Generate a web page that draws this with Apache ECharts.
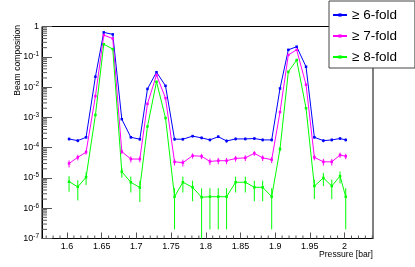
<!DOCTYPE html>
<html><head><meta charset="utf-8">
<script src="https://cdn.jsdelivr.net/npm/echarts@6/dist/echarts.min.js"></script>
<style>html,body{margin:0;padding:0;background:#fff}#c{width:415px;height:267px}</style>
</head><body><div id="c"></div>
<script>
// ---- data ----
const pressure = [1.603, 1.6156, 1.6275, 1.641, 1.653, 1.666, 1.679, 1.692, 1.705, 1.716, 1.729, 1.742,
  1.755, 1.767, 1.781, 1.794, 1.806, 1.818, 1.830, 1.843, 1.857, 1.870, 1.882, 1.895,
  1.907, 1.919, 1.931, 1.9445, 1.9565, 1.9695, 1.9816, 1.9935, 2.0017];

const fold6 = [1.93e-4, 1.7e-4, 2.2e-4, 0.022, 0.64, 0.55, 8.7e-4, 2.2e-4, 1.9e-4, 8.7e-3, 0.031, 0.011,
  1.9e-4, 1.9e-4, 2.4e-4, 2.1e-4, 1.8e-4, 2.3e-4, 1.66e-4, 1.94e-4, 1.94e-4, 2.0e-4, 1.8e-4, 1.8e-4,
  9e-3, 0.17, 0.215, 0.047, 2.2e-4, 1.7e-4, 1.8e-4, 2.0e-4, 1.8e-4];
const fold6Err = [2.0e-5, 1.9e-5, 2.1e-5, 2.1e-4, 1.2e-3, 1.1e-3, 4.3e-5, 2.1e-5, 2.0e-5, 1.4e-4, 2.6e-4, 1.5e-4,
  2.0e-5, 2.0e-5, 2.2e-5, 2.1e-5, 1.9e-5, 2.2e-5, 1.9e-5, 2.0e-5, 2.0e-5, 2.0e-5, 1.9e-5, 1.9e-5,
  1.4e-4, 6e-4, 6.7e-4, 3.1e-4, 2.1e-5, 1.9e-5, 1.9e-5, 2.0e-5, 1.9e-5];

const fold7 = [3.0e-5, 4.8e-5, 7.1e-5, 5e-3, 0.52, 0.40, 7.4e-5, 4.2e-5, 4.2e-5, 2.8e-3, 0.025, 4.3e-3,
  3.4e-5, 3.2e-5, 5.4e-5, 5.2e-5, 3.5e-5, 3.7e-5, 3.7e-5, 4.4e-5, 4.6e-5, 6.5e-5, 4.6e-5, 4.0e-5,
  1.5e-3, 0.115, 0.17, 0.012, 4.8e-5, 3.4e-5, 3.4e-5, 5.7e-5, 5.2e-5];
const fold7Err = [7.9e-6, 1.0e-5, 1.2e-5, 1.0e-4, 1.0e-3, 9e-4, 1.25e-5, 9.4e-6, 9.4e-6, 7.7e-5, 2.3e-4, 9.5e-5,
  8.4e-6, 8.2e-6, 1.06e-5, 1.04e-5, 8.6e-6, 8.8e-6, 8.8e-6, 9.6e-6, 9.8e-6, 1.17e-5, 9.8e-6, 9.2e-6,
  5.6e-5, 4.9e-4, 6e-4, 1.6e-4, 1.0e-5, 8.4e-6, 8.4e-6, 1.1e-5, 1.04e-5];

const fold8 = [7.5e-6, 5.1e-6, 1.05e-5, 1.2e-3, 0.26, 0.18, 1.6e-5, 7.2e-6, 4.8e-6, 5e-4, 0.015, 9.5e-4,
  2.4e-6, 7.2e-6, 4.9e-6, 2.3e-6, 2.4e-6, 2.4e-6, 2.4e-6, 7.2e-6, 7.2e-6, 4.9e-6, 4.9e-6, 2.4e-6,
  9e-5, 0.032, 0.078, 2e-3, 5.4e-6, 1.0e-5, 5.4e-6, 1.15e-5, 2.4e-6];
const fold8Err = [4e-6, 3.3e-6, 4.7e-6, 5e-5, 7e-4, 6e-4, 5.8e-6, 3.9e-6, 3.2e-6, 3.2e-5, 1.8e-4, 4.5e-5,
  2.2e-6, 3.9e-6, 3.2e-6, 2.2e-6, 2.2e-6, 2.2e-6, 2.2e-6, 3.9e-6, 3.9e-6, 3.2e-6, 3.2e-6, 2.2e-6,
  1.4e-5, 2.6e-4, 4e-4, 6.5e-5, 3.4e-6, 4.6e-6, 3.4e-6, 4.9e-6, 2.2e-6];

const seriesNames = ['\u2265 6-fold', '\u2265 7-fold', '\u2265 8-fold'];
const seriesColors = ['#0000ff', '#ff00ff', '#00ff00'];
const xTitle = 'Pressure [bar]';
const yTitle = 'Beam composition';

// ---- chart ----
const FONT = '"Liberation Sans", Arial, Helvetica, sans-serif';
const X0 = 1.564, X1 = 2.041, Y0 = 1e-7, Y1 = 1;

const yMinorTicks = [];
for (let e = -7; e < 0; e++) for (let m = 2; m <= 9; m++) yMinorTicks.push([X0, m * Math.pow(10, e)]);
const xMinorTicks = [];
for (let k = 157; k <= 204; k++) if (k % 5 !== 0) xMinorTicks.push([k / 100, Y0]);

function errData(vals, errs) {
  return pressure.map((x, i) => [x, Math.max(vals[i] - errs[i], Y0), vals[i] + errs[i]]);
}
function errSeries(vals, errs, color) {
  return {
    type: 'custom', silent: true, z: 2,
    data: errData(vals, errs),
    encode: { x: 0, y: [1, 2] },
    renderItem: function (params, api) {
      const a = api.coord([api.value(0), api.value(1)]);
      const b = api.coord([api.value(0), api.value(2)]);
      return { type: 'line', shape: { x1: a[0], y1: a[1], x2: b[0], y2: b[1] },
        style: { stroke: color, lineWidth: 1 } };
    }
  };
}
function lineSeries(name, vals, color) {
  return {
    name: name, type: 'line', z: 3,
    data: pressure.map((x, i) => [x, vals[i]]),
    symbol: 'rect', symbolSize: 2.5, showSymbol: true,
    lineStyle: { color: color, width: 1 },
    itemStyle: { color: color },
    emphasis: { disabled: true }
  };
}

const chart = echarts.init(document.getElementById('c'), null, { renderer: 'canvas' });
chart.setOption({
  animation: false,
  backgroundColor: '#fff',
  grid: { left: 42, right: 42, top: 26.5, bottom: 28.5, show: true, borderColor: '#000', borderWidth: 1 },
  legend: {
    data: seriesNames, orient: 'vertical', left: 329, top: 1,
    padding: [7, 18, 4, 3], itemGap: 7, itemWidth: 14, itemHeight: 4,
    backgroundColor: '#fff', borderColor: '#444', borderWidth: 1, borderRadius: 0,
    textStyle: { fontFamily: FONT, fontSize: 13.5, color: '#000' },
    selectedMode: false
  },
  xAxis: {
    type: 'value', min: X0, max: X1, splitNumber: 10,
    axisLine: { show: true, lineStyle: { color: '#000', width: 1 } },
    axisTick: { show: true, inside: true, length: 6, lineStyle: { color: '#555' } },
    axisLabel: { showMinLabel: false, showMaxLabel: false, fontFamily: FONT, fontSize: 9, color: '#000', margin: 4 },
    splitLine: { show: false }
  },
  yAxis: {
    type: 'log', logBase: 10, min: Y0, max: Y1,
    axisLine: { show: true, lineStyle: { color: '#000', width: 1 } },
    axisTick: { show: true, inside: true, length: 10, lineStyle: { color: '#555' } },
    axisLabel: {
      margin: 3, color: '#000',
      formatter: function (v) {
        const e = Math.round(Math.log10(v));
        if (e === 0) return '{b|1}';
        return '{b|10}{s|' + e + '}';
      },
      rich: {
        b: { fontFamily: FONT, fontSize: 9, lineHeight: 12, color: '#000' },
        s: { fontFamily: FONT, fontSize: 6.5, lineHeight: 12, verticalAlign: 'top', color: '#000', padding: [0, 0, 5, 0] }
      }
    },
    splitLine: { show: false }
  },
  graphic: [
    { type: 'text', x: 18, y: 25, rotation: Math.PI / 2,
      style: { text: yTitle, align: 'right', verticalAlign: 'middle', font: '8.6px ' + FONT, fill: '#000' } },
    { type: 'text', x: 373, y: 255,
      style: { text: xTitle, align: 'right', verticalAlign: 'middle', font: '8.6px ' + FONT, fill: '#000' } }
  ],
  series: [
    { type: 'custom', silent: true, z: 1, data: yMinorTicks, encode: { x: 0, y: 1 },
      renderItem: function (params, api) {
        const p = api.coord([api.value(0), api.value(1)]);
        return { type: 'line', shape: { x1: p[0], y1: p[1], x2: p[0] + 5, y2: p[1] }, style: { stroke: '#555', lineWidth: 1 } };
      } },
    { type: 'custom', silent: true, z: 1, data: xMinorTicks, encode: { x: 0, y: 1 },
      renderItem: function (params, api) {
        const p = api.coord([api.value(0), api.value(1)]);
        return { type: 'line', shape: { x1: p[0], y1: p[1], x2: p[0], y2: p[1] - 3 }, style: { stroke: '#555', lineWidth: 1 } };
      } },
    errSeries(fold6, fold6Err, seriesColors[0]),
    errSeries(fold7, fold7Err, seriesColors[1]),
    errSeries(fold8, fold8Err, seriesColors[2]),
    lineSeries(seriesNames[0], fold6, seriesColors[0]),
    lineSeries(seriesNames[1], fold7, seriesColors[1]),
    lineSeries(seriesNames[2], fold8, seriesColors[2])
  ]
});
</script></body></html>
